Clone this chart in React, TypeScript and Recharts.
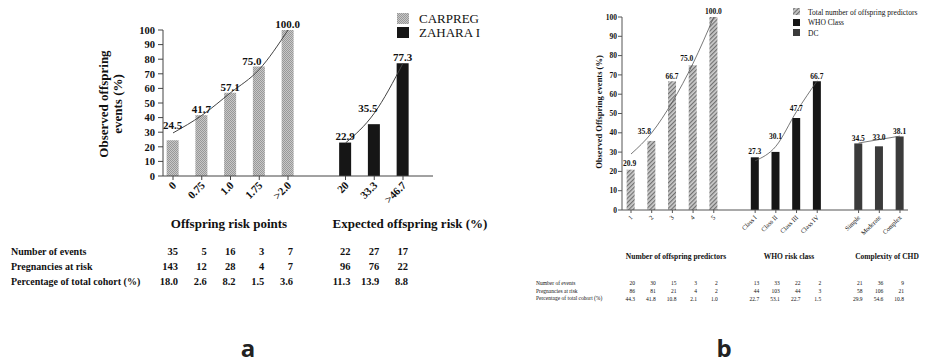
import React from 'react';
import { ComposedChart, Bar, Line, XAxis, YAxis, Cell, LabelList } from 'recharts';

const SERIF = "'Liberation Serif', 'DejaVu Serif', serif";
const SANS = "'Open Sans', 'DejaVu Sans', sans-serif";

// ---------- Panel a data ----------
const carpregCategories = ['0', '0.75', '1.0', '1.75', '>2.0'];
const carpregObserved = [24.5, 41.7, 57.1, 75.0, 100.0];
const carpregTrend = [29.5, 41.5, 57, 73, 100];
const zaharaCategories = ['20', '33.3', '>46.7'];
const zaharaObserved = [22.9, 35.5, 77.3];
const zaharaTrend = [22.6, 43, 77.3];
const seriesNamesA = ['CARPREG', 'ZAHARA I'];
const groupTitlesA = ['Offspring risk points', 'Expected offspring risk (%)'];
const eventsA = ['35', '5', '16', '3', '7', '22', '27', '17'];
const pregnanciesA = ['143', '12', '28', '4', '7', '96', '76', '22'];
const cohortPctA = ['18.0', '2.6', '8.2', '1.5', '3.6', '11.3', '13.9', '8.8'];

// ---------- Panel b data ----------
const predictorCategories = ['1', '2', '3', '4', '5'];
const predictorObserved = [20.9, 35.8, 66.7, 75.0, 100.0];
const predictorTrend = [29, 40, 56, 76, 100];
const whoCategories = ['Class I', 'Class II', 'Class III', 'Class IV'];
const whoObserved = [27.3, 30.1, 47.7, 66.7];
const whoTrend = [25.5, 33, 51, 67];
const chdCategories = ['Simple', 'Moderate', 'Complex'];
const chdObserved = [34.5, 33.0, 38.1];
const chdTrend = [34.7, 36.5, 38.3];
const seriesNamesB = ['Total number of offspring predictors', 'WHO Class', 'DC'];
const groupTitlesB = ['Number of offspring predictors', 'WHO risk class', 'Complexity of CHD'];
const eventsB = ['20', '30', '15', '3', '2', '13', '33', '22', '2', '21', '36', '9'];
const pregnanciesB = ['86', '81', '21', '4', '2', '44', '103', '44', '3', '58', '106', '21'];
const cohortPctB = ['44.3', '41.8', '10.8', '2.1', '1.0', '22.7', '53.1', '22.7', '1.5', '29.9', '54.6', '10.8'];

const tableRowLabels = ['Number of events', 'Pregnancies at risk', 'Percentage of total cohort (%)'];
const yTicks = [0, 10, 20, 30, 40, 50, 60, 70, 80, 90, 100];
const panelLetters = ['a', 'b'];

// ---------- styling / layout constants ----------
const fillsA = ['url(#patCarpreg)', '#161616'];
const fillsB = ['url(#patHatch)', '#161616', '#3b3b3b'];
const labelShiftA: number[][] = [[0, -9], [0, 0], [0, 0], [-7, 0], [0, 0], [0, -1], [-6, -10], [0, 0]];
const labelShiftB: number[][] = [[-1, -1], [-7, -4], [0, 1], [-6, -1], [0, 0], [0, 0], [0, -10], [0, -4], [0, 1], [0, 1], [0, -3], [0, 1]];

type Group = { categories: string[]; observed: number[]; trend: number[] };

function buildRows(groups: Group[], fills: string[]) {
  const rows: any[] = [];
  let slot = 0;
  groups.forEach((g, gi) => {
    g.categories.forEach((c, i) => {
      const row: any = { x: slot, cat: c, value: g.observed[i], fill: fills[gi] };
      groups.forEach((_, gj) => {
        row['trend' + gj] = gj === gi ? g.trend[i] : null;
      });
      rows.push(row);
      slot++;
    });
    slot++;
  });
  return rows;
}

const rowsA = buildRows(
  [
    { categories: carpregCategories, observed: carpregObserved, trend: carpregTrend },
    { categories: zaharaCategories, observed: zaharaObserved, trend: zaharaTrend },
  ],
  fillsA
);
const rowsB = buildRows(
  [
    { categories: predictorCategories, observed: predictorObserved, trend: predictorTrend },
    { categories: whoCategories, observed: whoObserved, trend: whoTrend },
    { categories: chdCategories, observed: chdObserved, trend: chdTrend },
  ],
  fillsB
);
const tableA = [eventsA, pregnanciesA, cohortPctA];
const tableB = [eventsB, pregnanciesB, cohortPctB];

const makeTick = (rows: any[], table: string[][], cfg: any) => (props: any) => {
  const { x, y, payload } = props;
  const idx = rows.findIndex((r) => r.x === payload.value);
  if (idx < 0) return null;
  return (
    <g>
      <text
        transform={`translate(${x + cfg.dx},${y + cfg.dy}) rotate(-45)`}
        textAnchor="end"
        fontFamily={SERIF}
        fontSize={cfg.fontSize}
        fontWeight={cfg.weight}
        fill="#111"
      >
        {rows[idx].cat}
      </text>
      {table.map((col, r) => (
        <text
          key={r}
          x={x + cfg.tableDx}
          y={y + cfg.rowY[r]}
          textAnchor="end"
          fontFamily={SERIF}
          fontSize={cfg.tableFont}
          fontWeight={cfg.tableWeight}
          fill="#111"
        >
          {col[idx]}
        </text>
      ))}
    </g>
  );
};

const makeValueLabel = (shifts: number[][], gap: number, fontSize: number) => (props: any) => {
  const { x, y, width, index, value } = props;
  if (value == null) return null;
  const s = shifts[index] || [0, 0];
  return (
    <text
      x={Number(x) + Number(width) / 2 + s[0]}
      y={Number(y) - gap + s[1]}
      textAnchor="middle"
      fontFamily={SERIF}
      fontSize={fontSize}
      fontWeight="bold"
      fill="#111"
    >
      {Number(value).toFixed(1)}
    </text>
  );
};

const TickA = makeTick(rowsA, tableA, {
  dx: 4, dy: 4, fontSize: 11, weight: 'bold', tableDx: 5, rowY: [73, 88, 103], tableFont: 10.5, tableWeight: 'bold',
});
const TickB = makeTick(rowsB, tableB, {
  dx: 2, dy: 3, fontSize: 6.5, weight: 'normal', tableDx: 4, rowY: [70, 77.5, 85.5], tableFont: 5.5, tableWeight: 'normal',
});

function PanelA() {
  return (
    <ComposedChart width={460} height={300} data={rowsA} margin={{ top: 30, right: 27, bottom: 94, left: 133 }}>
      <defs>
        <pattern id="patCarpreg" width="2" height="2" patternUnits="userSpaceOnUse">
          <rect width="2" height="2" fill="#c8c8c8" />
          <rect width="1" height="1" fill="#989898" />
          <rect x="1" y="1" width="1" height="1" fill="#989898" />
        </pattern>
      </defs>
      <XAxis
        type="number"
        dataKey="x"
        domain={[-0.348, 9.043]}
        allowDataOverflow
        ticks={rowsA.map((r) => r.x)}
        interval={0}
        tick={TickA}
        tickSize={4}
        height={30}
        stroke="#444"
      />
      <YAxis
        domain={[0, 100]}
        ticks={yTicks}
        interval={0}
        width={30}
        tickSize={5}
        tickMargin={3}
        stroke="#444"
        tick={{ fontFamily: SERIF, fontSize: 10.5, fontWeight: 'bold', fill: '#111' }}
      />
      <Bar dataKey="value" barSize={12} isAnimationActive={false}>
        {rowsA.map((r, i) => (
          <Cell key={i} fill={r.fill} />
        ))}
        <LabelList dataKey="value" content={makeValueLabel(labelShiftA, 2, 11)} />
      </Bar>
      <Line dataKey="trend0" type="monotone" stroke="#444" strokeWidth={1} dot={false} isAnimationActive={false} />
      <Line dataKey="trend1" type="monotone" stroke="#444" strokeWidth={1} dot={false} isAnimationActive={false} />
    </ComposedChart>
  );
}

function PanelB() {
  return (
    <ComposedChart width={465} height={310} data={rowsB} margin={{ top: 17, right: 17, bottom: 70, left: 132 }}>
      <defs>
        <pattern id="patHatch" width="3" height="3" patternUnits="userSpaceOnUse" patternTransform="rotate(45)">
          <rect width="3" height="3" fill="#cccccc" />
          <rect width="1.2" height="3" fill="#707070" />
        </pattern>
      </defs>
      <XAxis
        type="number"
        dataKey="x"
        domain={[-0.435, 13.387]}
        allowDataOverflow
        ticks={rowsB.map((r) => r.x)}
        interval={0}
        tick={TickB}
        tickSize={3}
        height={30}
        stroke="#555"
      />
      <YAxis
        domain={[0, 100]}
        ticks={yTicks}
        interval={0}
        width={30}
        tickSize={4}
        tickMargin={1}
        stroke="#555"
        tick={{ fontFamily: SERIF, fontSize: 7.5, fontWeight: 'bold', fill: '#111' }}
      />
      <Bar dataKey="value" barSize={8} isAnimationActive={false}>
        {rowsB.map((r, i) => (
          <Cell key={i} fill={r.fill} />
        ))}
        <LabelList dataKey="value" content={makeValueLabel(labelShiftB, 3, 7.5)} />
      </Bar>
      <Line dataKey="trend0" type="monotone" stroke="#555" strokeWidth={0.8} dot={false} isAnimationActive={false} />
      <Line dataKey="trend1" type="monotone" stroke="#555" strokeWidth={0.8} dot={false} isAnimationActive={false} />
      <Line dataKey="trend2" type="monotone" stroke="#555" strokeWidth={0.8} dot={false} isAnimationActive={false} />
    </ComposedChart>
  );
}

function Overlay() {
  const t = { fontFamily: SERIF, fill: '#111' } as any;
  return (
    <svg width={925} height={364} style={{ position: 'absolute', left: 0, top: 0, pointerEvents: 'none' }}>
      <defs>
        <pattern id="legCarpreg" width="2" height="2" patternUnits="userSpaceOnUse">
          <rect width="2" height="2" fill="#c8c8c8" />
          <rect width="1" height="1" fill="#989898" />
          <rect x="1" y="1" width="1" height="1" fill="#989898" />
        </pattern>
        <pattern id="legHatch" width="3" height="3" patternUnits="userSpaceOnUse" patternTransform="rotate(45)">
          <rect width="3" height="3" fill="#cccccc" />
          <rect width="1.2" height="3" fill="#707070" />
        </pattern>
      </defs>
      {/* Panel a */}
      <text {...t} transform="translate(108,104) rotate(-90)" textAnchor="middle" fontSize={13} fontWeight="bold">
        Observed offspring
      </text>
      <text {...t} transform="translate(122,104) rotate(-90)" textAnchor="middle" fontSize={13} fontWeight="bold">
        events (%)
      </text>
      <text {...t} x={229} y={227.5} textAnchor="middle" fontSize={13} fontWeight="bold">{groupTitlesA[0]}</text>
      <text {...t} x={410} y={227.5} textAnchor="middle" fontSize={13} fontWeight="bold">{groupTitlesA[1]}</text>
      {tableRowLabels.map((l, i) => (
        <text key={'ra' + i} {...t} x={11} y={255 + i * 15} fontSize={10} fontWeight="bold">{l}</text>
      ))}
      <rect x={397} y={13} width={12} height={11} fill="url(#legCarpreg)" />
      <rect x={397} y={27} width={12} height={11} fill="#161616" />
      <text {...t} x={419} y={23} fontSize={13}>{seriesNamesA[0]}</text>
      <text {...t} x={419} y={37} fontSize={13}>{seriesNamesA[1]}</text>
      <text x={248} y={357} textAnchor="middle" fontFamily={SANS} fontSize={24} fontWeight="bold" fill="#222">{panelLetters[0]}</text>

      {/* Panel b */}
      <text {...t} transform="translate(602,112) rotate(-90)" textAnchor="middle" fontSize={8.5} fontWeight="bold">
        Observed Offspring events (%)
      </text>
      <text {...t} x={676} y={259} textAnchor="middle" fontSize={7.5} fontWeight="bold">{groupTitlesB[0]}</text>
      <text {...t} x={789} y={259} textAnchor="middle" fontSize={7.5} fontWeight="bold">{groupTitlesB[1]}</text>
      <text {...t} x={887} y={259} textAnchor="middle" fontSize={7.5} fontWeight="bold">{groupTitlesB[2]}</text>
      {tableRowLabels.map((l, i) => (
        <text key={'rb' + i} {...t} x={536} y={285 + i * 7.7} fontSize={5.5}>{l}</text>
      ))}
      <rect x={793} y={8} width={7} height={7} fill="url(#legHatch)" />
      <rect x={793} y={19} width={7} height={7} fill="#161616" />
      <rect x={793} y={29} width={7} height={7} fill="#3b3b3b" />
      <text {...t} x={808} y={14.5} fontSize={7.5}>{seriesNamesB[0]}</text>
      <text {...t} x={808} y={25} fontSize={7.5}>{seriesNamesB[1]}</text>
      <text {...t} x={808} y={35.5} fontSize={7.5}>{seriesNamesB[2]}</text>
      <text x={724} y={357} textAnchor="middle" fontFamily={SANS} fontSize={24} fontWeight="bold" fill="#222">{panelLetters[1]}</text>
    </svg>
  );
}

export default function App() {
  return (
    <div style={{ position: 'absolute', left: 0, top: 0, width: 925, height: 364, background: '#fff', overflow: 'hidden' }}>
      <div style={{ position: 'absolute', left: 0, top: 0 }}>
        <PanelA />
      </div>
      <div style={{ position: 'absolute', left: 460, top: 0 }}>
        <PanelB />
      </div>
      <Overlay />
    </div>
  );
}
